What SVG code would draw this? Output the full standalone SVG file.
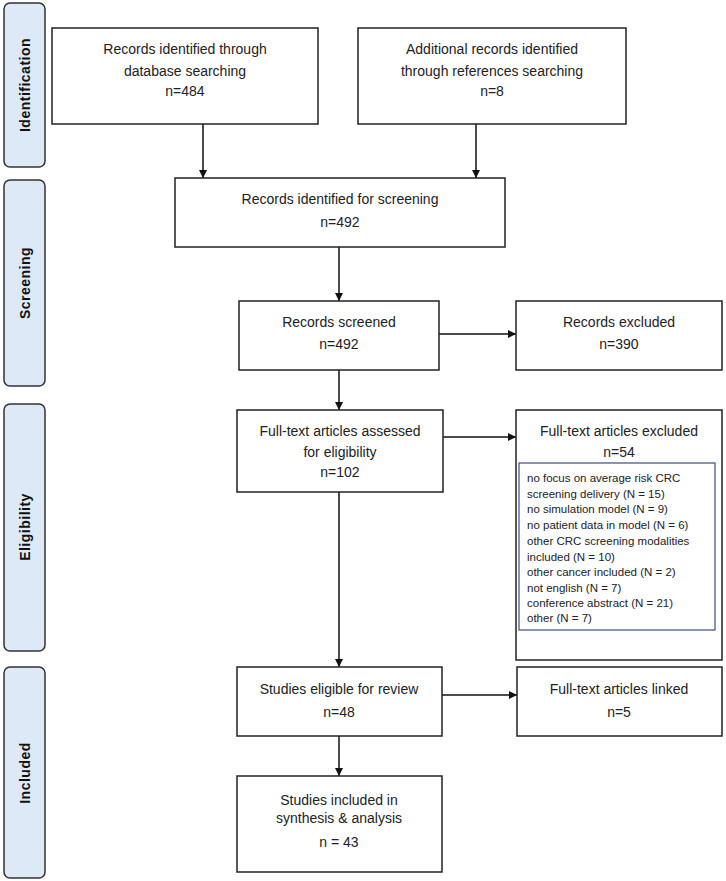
<svg xmlns="http://www.w3.org/2000/svg" width="726" height="881" viewBox="0 0 726 881">
<defs>
<style>
.side{fill:#dde9f6;stroke:#333;stroke-width:1.5}
.sidet{font-family:"Liberation Sans",Arial,sans-serif;font-weight:bold;font-size:14px;fill:#111;text-anchor:middle;letter-spacing:0.5px}
.box{fill:#fff;stroke:#222;stroke-width:1.5}
.t{font-family:"Liberation Sans",Arial,sans-serif;font-size:14px;fill:#222;text-anchor:middle}
.s{font-family:"Liberation Sans",Arial,sans-serif;font-size:11.5px;fill:#222}
.inner{fill:none;stroke:#3a5080;stroke-width:1.2}
.c{stroke:#111;stroke-width:1.5;fill:none;marker-end:url(#ah)}
</style>
<marker id="ah" markerWidth="10" markerHeight="10" refX="8" refY="4" orient="auto" markerUnits="userSpaceOnUse">
<path d="M0,0 L8,4 L0,8 Z" fill="#111"/>
</marker>
</defs>
<rect width="726" height="881" fill="#fff"/>

<g id="side-identification"><rect class="side" x="4" y="3" width="41" height="164" rx="6"/><text class="sidet" transform="translate(30,85) rotate(-90)">Identification</text></g>
<g id="side-screening"><rect class="side" x="4" y="180" width="41" height="206" rx="6"/><text class="sidet" transform="translate(30,283) rotate(-90)">Screening</text></g>
<g id="side-eligibility"><rect class="side" x="4" y="404" width="41" height="247" rx="6"/><text class="sidet" transform="translate(30,527) rotate(-90)">Eligibility</text></g>
<g id="side-included"><rect class="side" x="4" y="667" width="41" height="211" rx="6"/><text class="sidet" transform="translate(30,773) rotate(-90)">Included</text></g>

<g id="connectors">
<line class="c" x1="203" y1="124" x2="203" y2="178"/>
<line class="c" x1="476" y1="124" x2="476" y2="178"/>
<line class="c" x1="339" y1="247" x2="339" y2="301"/>
<line class="c" x1="439" y1="334" x2="516" y2="334"/>
<line class="c" x1="339" y1="370" x2="339" y2="410"/>
<line class="c" x1="443" y1="437" x2="516" y2="437"/>
<line class="c" x1="339" y1="492" x2="339" y2="667"/>
<line class="c" x1="442" y1="695" x2="517" y2="695"/>
<line class="c" x1="339" y1="736" x2="339" y2="776"/>
</g>

<g id="n-db"><rect class="box" x="52" y="28" width="266" height="96"/>
<text class="t" x="185" y="54">Records identified through</text>
<text class="t" x="185" y="76">database searching</text>
<text class="t" x="185" y="96">n=484</text></g>

<g id="n-ref"><rect class="box" x="358" y="28" width="268" height="96"/>
<text class="t" x="492" y="54">Additional records identified</text>
<text class="t" x="492" y="76">through references searching</text>
<text class="t" x="492" y="96">n=8</text></g>

<g id="n-idscreen"><rect class="box" x="175" y="178" width="330" height="69"/>
<text class="t" x="340" y="204">Records identified for screening</text>
<text class="t" x="340" y="227">n=492</text></g>

<g id="n-screened"><rect class="box" x="239" y="301" width="200" height="69"/>
<text class="t" x="339" y="327">Records screened</text>
<text class="t" x="339" y="349">n=492</text></g>

<g id="n-excluded"><rect class="box" x="516" y="301" width="206" height="69"/>
<text class="t" x="619" y="327">Records excluded</text>
<text class="t" x="619" y="349">n=390</text></g>

<g id="n-fulltext"><rect class="box" x="237" y="410" width="206" height="82"/>
<text class="t" x="340" y="436">Full-text articles assessed</text>
<text class="t" x="340" y="457">for eligibility</text>
<text class="t" x="340" y="477">n=102</text></g>

<g id="n-ftexcluded"><rect class="box" x="516" y="410" width="206" height="250"/>
<text class="t" x="619" y="436">Full-text articles excluded</text>
<text class="t" x="619" y="457">n=54</text>
<rect class="inner" x="519" y="463" width="196" height="167"/>
<text class="s" x="527" y="482">no focus on average risk CRC</text>
<text class="s" x="527" y="498">screening delivery (N = 15)</text>
<text class="s" x="527" y="513">no simulation model (N = 9)</text>
<text class="s" x="527" y="529">no patient data in model (N = 6)</text>
<text class="s" x="527" y="545">other CRC screening modalities</text>
<text class="s" x="527" y="561">included (N = 10)</text>
<text class="s" x="527" y="576">other cancer included (N = 2)</text>
<text class="s" x="527" y="592">not english (N = 7)</text>
<text class="s" x="527" y="607">conference abstract (N = 21)</text>
<text class="s" x="527" y="622">other (N = 7)</text></g>

<g id="n-eligible"><rect class="box" x="237" y="667" width="205" height="69"/>
<text class="t" x="339" y="694">Studies eligible for review</text>
<text class="t" x="339" y="717">n=48</text></g>

<g id="n-linked"><rect class="box" x="517" y="667" width="205" height="69"/>
<text class="t" x="619" y="694">Full-text articles linked</text>
<text class="t" x="619" y="717">n=5</text></g>

<g id="n-included"><rect class="box" x="237" y="776" width="205" height="96"/>
<text class="t" x="339" y="805">Studies included in</text>
<text class="t" x="339" y="823">synthesis &amp; analysis</text>
<text class="t" x="339" y="847">n = 43</text></g>
</svg>
